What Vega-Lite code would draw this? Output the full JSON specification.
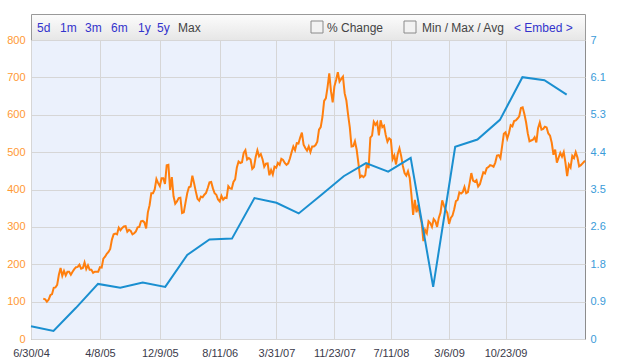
{
  "$schema": "https://vega.github.io/schema/vega-lite/v6.json",
  "padding": {"left": 5, "top": 13, "right": 5, "bottom": 0},
  "background": "white",
  "spacing": 0,
  "bounds": "flush",
  "config": {"font": "Liberation Sans", "concat": {"spacing": 0}},
  "datasets": {
    "buttons": [
      {"label": "5d", "pos": 6, "kind": "link"},
      {"label": "1m", "pos": 29, "kind": "link"},
      {"label": "3m", "pos": 54, "kind": "link"},
      {"label": "6m", "pos": 80, "kind": "link"},
      {"label": "1y", "pos": 107, "kind": "link"},
      {"label": "5y", "pos": 126, "kind": "link"},
      {"label": "Max", "pos": 147, "kind": "plain"},
      {"label": "% Change", "pos": 296, "kind": "plain"},
      {"label": "Min / Max / Avg", "pos": 391, "kind": "plain"},
      {"label": "< Embed >", "pos": 483, "kind": "link"}
    ],
    "boxes": [{"pos": 286}, {"pos": 379}],
    "eps": [
      {"date": "2004-06-30", "e": 0.30}, {"date": "2004-09-30", "e": 0.19}, {"date": "2004-12-31", "e": 0.73},
      {"date": "2005-03-31", "e": 1.29}, {"date": "2005-06-30", "e": 1.20}, {"date": "2005-09-30", "e": 1.32}, {"date": "2005-12-31", "e": 1.22},
      {"date": "2006-03-31", "e": 1.97}, {"date": "2006-06-30", "e": 2.33}, {"date": "2006-09-30", "e": 2.35}, {"date": "2006-12-31", "e": 3.30},
      {"date": "2007-03-31", "e": 3.19}, {"date": "2007-06-30", "e": 2.94}, {"date": "2007-09-30", "e": 3.37}, {"date": "2007-12-31", "e": 3.81},
      {"date": "2008-03-31", "e": 4.12}, {"date": "2008-06-30", "e": 3.92}, {"date": "2008-09-30", "e": 4.24}, {"date": "2008-12-31", "e": 1.22},
      {"date": "2009-03-31", "e": 4.50}, {"date": "2009-06-30", "e": 4.67}, {"date": "2009-09-30", "e": 5.13}, {"date": "2009-12-31", "e": 6.13},
      {"date": "2010-03-31", "e": 6.06}, {"date": "2010-06-30", "e": 5.72}
    ],
    "price": [
      {"date": "2004-08-19", "v": 108}, {"date": "2004-08-27", "v": 106}, {"date": "2004-09-03", "v": 100}, {"date": "2004-09-10", "v": 105},
      {"date": "2004-09-17", "v": 117}, {"date": "2004-09-24", "v": 120}, {"date": "2004-10-01", "v": 137}, {"date": "2004-10-08", "v": 138},
      {"date": "2004-10-15", "v": 145}, {"date": "2004-10-22", "v": 172}, {"date": "2004-10-29", "v": 190}, {"date": "2004-11-05", "v": 169},
      {"date": "2004-11-12", "v": 182}, {"date": "2004-11-19", "v": 170}, {"date": "2004-11-26", "v": 180}, {"date": "2004-12-03", "v": 180},
      {"date": "2004-12-10", "v": 172}, {"date": "2004-12-17", "v": 180}, {"date": "2004-12-24", "v": 187}, {"date": "2004-12-31", "v": 192},
      {"date": "2005-01-07", "v": 193}, {"date": "2005-01-14", "v": 199}, {"date": "2005-01-21", "v": 188}, {"date": "2005-01-28", "v": 190},
      {"date": "2005-02-04", "v": 205}, {"date": "2005-02-11", "v": 187}, {"date": "2005-02-18", "v": 197}, {"date": "2005-02-25", "v": 185},
      {"date": "2005-03-04", "v": 185}, {"date": "2005-03-11", "v": 177}, {"date": "2005-03-18", "v": 180}, {"date": "2005-03-25", "v": 180},
      {"date": "2005-04-01", "v": 180}, {"date": "2005-04-08", "v": 192}, {"date": "2005-04-15", "v": 191}, {"date": "2005-04-22", "v": 215},
      {"date": "2005-04-29", "v": 220}, {"date": "2005-05-06", "v": 228}, {"date": "2005-05-13", "v": 233}, {"date": "2005-05-20", "v": 241},
      {"date": "2005-05-27", "v": 266}, {"date": "2005-06-03", "v": 280}, {"date": "2005-06-10", "v": 282}, {"date": "2005-06-17", "v": 280},
      {"date": "2005-06-24", "v": 298}, {"date": "2005-07-01", "v": 291}, {"date": "2005-07-08", "v": 297}, {"date": "2005-07-15", "v": 301},
      {"date": "2005-07-22", "v": 302}, {"date": "2005-07-29", "v": 287}, {"date": "2005-08-05", "v": 292}, {"date": "2005-08-12", "v": 289},
      {"date": "2005-08-19", "v": 280}, {"date": "2005-08-26", "v": 283}, {"date": "2005-09-02", "v": 288}, {"date": "2005-09-09", "v": 299},
      {"date": "2005-09-16", "v": 300}, {"date": "2005-09-23", "v": 315}, {"date": "2005-09-30", "v": 316}, {"date": "2005-10-07", "v": 312},
      {"date": "2005-10-14", "v": 296}, {"date": "2005-10-21", "v": 339}, {"date": "2005-10-28", "v": 358}, {"date": "2005-11-04", "v": 390},
      {"date": "2005-11-11", "v": 390}, {"date": "2005-11-18", "v": 400}, {"date": "2005-11-25", "v": 428}, {"date": "2005-12-02", "v": 417},
      {"date": "2005-12-09", "v": 409}, {"date": "2005-12-16", "v": 430}, {"date": "2005-12-23", "v": 430}, {"date": "2005-12-30", "v": 415},
      {"date": "2006-01-06", "v": 465}, {"date": "2006-01-13", "v": 466}, {"date": "2006-01-20", "v": 399}, {"date": "2006-01-27", "v": 433},
      {"date": "2006-02-03", "v": 382}, {"date": "2006-02-10", "v": 362}, {"date": "2006-02-17", "v": 368}, {"date": "2006-02-24", "v": 377},
      {"date": "2006-03-03", "v": 378}, {"date": "2006-03-10", "v": 337}, {"date": "2006-03-17", "v": 339}, {"date": "2006-03-24", "v": 365},
      {"date": "2006-03-31", "v": 390}, {"date": "2006-04-07", "v": 406}, {"date": "2006-04-14", "v": 408}, {"date": "2006-04-21", "v": 437},
      {"date": "2006-04-28", "v": 417}, {"date": "2006-05-05", "v": 395}, {"date": "2006-05-12", "v": 375}, {"date": "2006-05-19", "v": 370},
      {"date": "2006-05-26", "v": 381}, {"date": "2006-06-02", "v": 379}, {"date": "2006-06-09", "v": 386}, {"date": "2006-06-16", "v": 391},
      {"date": "2006-06-23", "v": 404}, {"date": "2006-06-30", "v": 419}, {"date": "2006-07-07", "v": 420}, {"date": "2006-07-14", "v": 403},
      {"date": "2006-07-21", "v": 390}, {"date": "2006-07-28", "v": 386}, {"date": "2006-08-04", "v": 373}, {"date": "2006-08-11", "v": 368},
      {"date": "2006-08-18", "v": 383}, {"date": "2006-08-25", "v": 373}, {"date": "2006-09-01", "v": 378}, {"date": "2006-09-08", "v": 377},
      {"date": "2006-09-15", "v": 409}, {"date": "2006-09-22", "v": 403}, {"date": "2006-09-29", "v": 402}, {"date": "2006-10-06", "v": 420},
      {"date": "2006-10-13", "v": 427}, {"date": "2006-10-20", "v": 459}, {"date": "2006-10-27", "v": 475}, {"date": "2006-11-03", "v": 471},
      {"date": "2006-11-10", "v": 473}, {"date": "2006-11-17", "v": 498}, {"date": "2006-11-24", "v": 505}, {"date": "2006-12-01", "v": 480},
      {"date": "2006-12-08", "v": 484}, {"date": "2006-12-15", "v": 480}, {"date": "2006-12-22", "v": 455}, {"date": "2006-12-29", "v": 460},
      {"date": "2007-01-05", "v": 487}, {"date": "2007-01-12", "v": 505}, {"date": "2007-01-19", "v": 489}, {"date": "2007-01-26", "v": 495},
      {"date": "2007-02-02", "v": 481}, {"date": "2007-02-09", "v": 461}, {"date": "2007-02-16", "v": 469}, {"date": "2007-02-23", "v": 470},
      {"date": "2007-03-02", "v": 438}, {"date": "2007-03-09", "v": 452}, {"date": "2007-03-16", "v": 440}, {"date": "2007-03-23", "v": 461},
      {"date": "2007-03-30", "v": 458}, {"date": "2007-04-06", "v": 471}, {"date": "2007-04-13", "v": 466}, {"date": "2007-04-20", "v": 482},
      {"date": "2007-04-27", "v": 479}, {"date": "2007-05-04", "v": 471}, {"date": "2007-05-11", "v": 466}, {"date": "2007-05-18", "v": 470},
      {"date": "2007-05-25", "v": 483}, {"date": "2007-06-01", "v": 500}, {"date": "2007-06-08", "v": 515}, {"date": "2007-06-15", "v": 505},
      {"date": "2007-06-22", "v": 524}, {"date": "2007-06-29", "v": 523}, {"date": "2007-07-06", "v": 539}, {"date": "2007-07-13", "v": 552},
      {"date": "2007-07-20", "v": 520}, {"date": "2007-07-27", "v": 511}, {"date": "2007-08-03", "v": 504}, {"date": "2007-08-10", "v": 515},
      {"date": "2007-08-17", "v": 500}, {"date": "2007-08-24", "v": 515}, {"date": "2007-08-31", "v": 515}, {"date": "2007-09-07", "v": 519},
      {"date": "2007-09-14", "v": 528}, {"date": "2007-09-21", "v": 560}, {"date": "2007-09-28", "v": 567}, {"date": "2007-10-05", "v": 594},
      {"date": "2007-10-12", "v": 637}, {"date": "2007-10-19", "v": 644}, {"date": "2007-10-26", "v": 674}, {"date": "2007-11-02", "v": 711},
      {"date": "2007-11-09", "v": 663}, {"date": "2007-11-16", "v": 633}, {"date": "2007-11-23", "v": 676}, {"date": "2007-11-30", "v": 693},
      {"date": "2007-12-07", "v": 714}, {"date": "2007-12-14", "v": 689}, {"date": "2007-12-21", "v": 696}, {"date": "2007-12-28", "v": 702},
      {"date": "2008-01-04", "v": 657}, {"date": "2008-01-11", "v": 638}, {"date": "2008-01-18", "v": 600}, {"date": "2008-01-25", "v": 566},
      {"date": "2008-02-01", "v": 515}, {"date": "2008-02-08", "v": 516}, {"date": "2008-02-15", "v": 529}, {"date": "2008-02-22", "v": 507},
      {"date": "2008-02-29", "v": 471}, {"date": "2008-03-07", "v": 433}, {"date": "2008-03-14", "v": 437}, {"date": "2008-03-21", "v": 433},
      {"date": "2008-03-28", "v": 438}, {"date": "2008-04-04", "v": 471}, {"date": "2008-04-11", "v": 457}, {"date": "2008-04-18", "v": 539},
      {"date": "2008-04-25", "v": 544}, {"date": "2008-05-02", "v": 581}, {"date": "2008-05-09", "v": 573}, {"date": "2008-05-16", "v": 580},
      {"date": "2008-05-23", "v": 545}, {"date": "2008-05-30", "v": 585}, {"date": "2008-06-06", "v": 567}, {"date": "2008-06-13", "v": 571},
      {"date": "2008-06-20", "v": 546}, {"date": "2008-06-27", "v": 528}, {"date": "2008-07-04", "v": 537}, {"date": "2008-07-11", "v": 533},
      {"date": "2008-07-18", "v": 481}, {"date": "2008-07-25", "v": 491}, {"date": "2008-08-01", "v": 467}, {"date": "2008-08-08", "v": 495},
      {"date": "2008-08-15", "v": 510}, {"date": "2008-08-22", "v": 490}, {"date": "2008-08-29", "v": 463}, {"date": "2008-09-05", "v": 444},
      {"date": "2008-09-12", "v": 437}, {"date": "2008-09-19", "v": 449}, {"date": "2008-09-26", "v": 431}, {"date": "2008-10-03", "v": 386},
      {"date": "2008-10-10", "v": 332}, {"date": "2008-10-17", "v": 372}, {"date": "2008-10-24", "v": 339}, {"date": "2008-10-31", "v": 359},
      {"date": "2008-11-07", "v": 331}, {"date": "2008-11-14", "v": 310}, {"date": "2008-11-21", "v": 262}, {"date": "2008-11-28", "v": 292},
      {"date": "2008-12-05", "v": 283}, {"date": "2008-12-12", "v": 315}, {"date": "2008-12-19", "v": 310}, {"date": "2008-12-26", "v": 300},
      {"date": "2009-01-02", "v": 321}, {"date": "2009-01-09", "v": 315}, {"date": "2009-01-16", "v": 300}, {"date": "2009-01-23", "v": 324},
      {"date": "2009-01-30", "v": 338}, {"date": "2009-02-06", "v": 371}, {"date": "2009-02-13", "v": 357}, {"date": "2009-02-20", "v": 346},
      {"date": "2009-02-27", "v": 337}, {"date": "2009-03-06", "v": 308}, {"date": "2009-03-13", "v": 324}, {"date": "2009-03-20", "v": 330},
      {"date": "2009-03-27", "v": 347}, {"date": "2009-04-03", "v": 369}, {"date": "2009-04-10", "v": 372}, {"date": "2009-04-17", "v": 392},
      {"date": "2009-04-24", "v": 389}, {"date": "2009-05-01", "v": 393}, {"date": "2009-05-08", "v": 407}, {"date": "2009-05-15", "v": 390},
      {"date": "2009-05-22", "v": 393}, {"date": "2009-05-29", "v": 417}, {"date": "2009-06-05", "v": 444}, {"date": "2009-06-12", "v": 424},
      {"date": "2009-06-19", "v": 421}, {"date": "2009-06-26", "v": 425}, {"date": "2009-07-03", "v": 408}, {"date": "2009-07-10", "v": 414},
      {"date": "2009-07-17", "v": 430}, {"date": "2009-07-24", "v": 446}, {"date": "2009-07-31", "v": 443}, {"date": "2009-08-07", "v": 457},
      {"date": "2009-08-14", "v": 460}, {"date": "2009-08-21", "v": 465}, {"date": "2009-08-28", "v": 464}, {"date": "2009-09-04", "v": 461},
      {"date": "2009-09-11", "v": 472}, {"date": "2009-09-18", "v": 491}, {"date": "2009-09-25", "v": 492}, {"date": "2009-10-02", "v": 484},
      {"date": "2009-10-09", "v": 516}, {"date": "2009-10-16", "v": 549}, {"date": "2009-10-23", "v": 553}, {"date": "2009-10-30", "v": 536},
      {"date": "2009-11-06", "v": 551}, {"date": "2009-11-13", "v": 572}, {"date": "2009-11-20", "v": 569}, {"date": "2009-11-27", "v": 583},
      {"date": "2009-12-04", "v": 585}, {"date": "2009-12-11", "v": 590}, {"date": "2009-12-18", "v": 596}, {"date": "2009-12-25", "v": 618},
      {"date": "2010-01-01", "v": 620}, {"date": "2010-01-08", "v": 602}, {"date": "2010-01-15", "v": 580}, {"date": "2010-01-22", "v": 550},
      {"date": "2010-01-29", "v": 529}, {"date": "2010-02-05", "v": 531}, {"date": "2010-02-12", "v": 533}, {"date": "2010-02-19", "v": 540},
      {"date": "2010-02-26", "v": 526}, {"date": "2010-03-05", "v": 564}, {"date": "2010-03-12", "v": 579}, {"date": "2010-03-19", "v": 560},
      {"date": "2010-03-26", "v": 562}, {"date": "2010-04-02", "v": 568}, {"date": "2010-04-09", "v": 566}, {"date": "2010-04-16", "v": 550},
      {"date": "2010-04-23", "v": 544}, {"date": "2010-04-30", "v": 525}, {"date": "2010-05-07", "v": 493}, {"date": "2010-05-14", "v": 507},
      {"date": "2010-05-21", "v": 472}, {"date": "2010-05-28", "v": 485}, {"date": "2010-06-04", "v": 498}, {"date": "2010-06-11", "v": 488},
      {"date": "2010-06-18", "v": 500}, {"date": "2010-06-25", "v": 472}, {"date": "2010-07-02", "v": 436}, {"date": "2010-07-09", "v": 467},
      {"date": "2010-07-16", "v": 459}, {"date": "2010-07-23", "v": 490}, {"date": "2010-07-30", "v": 484}, {"date": "2010-08-06", "v": 500},
      {"date": "2010-08-13", "v": 486}, {"date": "2010-08-20", "v": 462}, {"date": "2010-08-27", "v": 465}, {"date": "2010-09-03", "v": 470},
      {"date": "2010-09-13", "v": 477}
    ]
  },
  "vconcat": [
    {
      "width": 554,
      "height": 26,
      "view": {
        "stroke": "#999999",
        "fill": {"gradient": "linear", "x1": 0, "y1": 0, "x2": 0, "y2": 1,
                 "stops": [{"offset": 0, "color": "#fcfcfc"}, {"offset": 1, "color": "#e6e6e6"}]}
      },
      "layer": [
        {
          "data": {"name": "boxes"},
          "mark": {"type": "square", "size": 144, "filled": true, "fill": "#f2f2f2", "stroke": "#8a8a8a", "strokeWidth": 1, "opacity": 1, "dy": 1},
          "encoding": {
            "x": {"field": "pos", "type": "quantitative", "scale": {"domain": [0, 554], "nice": false, "zero": false}, "axis": null}
          }
        },
        {
          "data": {"name": "buttons"},
          "mark": {"type": "text", "align": "left", "baseline": "middle", "fontSize": 12, "dy": 1},
          "encoding": {
            "x": {"field": "pos", "type": "quantitative", "scale": {"domain": [0, 554], "nice": false, "zero": false}, "axis": null},
            "text": {"field": "label"},
            "color": {"field": "kind", "type": "nominal", "scale": {"domain": ["link", "plain"], "range": ["#3333cc", "#444444"]}, "legend": null}
          }
        }
      ]
    },
    {
      "width": 554,
      "height": 299,
      "view": {"stroke": "#8c8c8c", "fill": "#ebf1fc"},
      "encoding": {
        "x": {
          "field": "date", "type": "temporal",
          "scale": {"type": "utc", "domain": [{"year": 2004, "month": 6, "date": 30, "utc": true}, {"year": 2010, "month": 9, "date": 13, "utc": true}]},
          "axis": {
            "title": null,
            "values": [
              {"year": 2004, "month": 6, "date": 30, "utc": true},
              {"year": 2005, "month": 4, "date": 8, "utc": true},
              {"year": 2005, "month": 12, "date": 9, "utc": true},
              {"year": 2006, "month": 8, "date": 11, "utc": true},
              {"year": 2007, "month": 3, "date": 31, "utc": true},
              {"year": 2007, "month": 11, "date": 23, "utc": true},
              {"year": 2008, "month": 7, "date": 11, "utc": true},
              {"year": 2009, "month": 3, "date": 6, "utc": true},
              {"year": 2009, "month": 10, "date": 23, "utc": true}
            ],
            "format": "%-m/%-d/%y",
            "grid": true, "gridColor": "#d6d6d6", "gridWidth": 1,
            "domain": false, "ticks": false,
            "labelPadding": 8, "labelFontSize": 11, "labelColor": "#3a3a4a",
            "labelFlush": false, "labelOverlap": false
          }
        }
      },
      "layer": [
        {
          "data": {"name": "price"},
          "mark": {"type": "line", "color": "#ff7f0e", "strokeWidth": 2},
          "encoding": {
            "y": {
              "field": "v", "type": "quantitative",
              "scale": {"domain": [0, 800], "nice": false},
              "axis": {
                "orient": "left", "title": null,
                "values": [0, 100, 200, 300, 400, 500, 600, 700, 800],
                "grid": true, "gridColor": "#d6d6d6", "gridWidth": 1,
                "domain": false, "ticks": false,
                "labelColor": "#ff9933", "labelFontSize": 11, "labelPadding": 6,
                "minExtent": 25, "maxExtent": 25
              }
            }
          }
        },
        {
          "data": {"name": "eps"},
          "mark": {"type": "line", "color": "#1a8fd0", "strokeWidth": 2},
          "encoding": {
            "y": {
              "field": "e", "type": "quantitative",
              "scale": {"domain": [0, 7], "nice": false},
              "axis": {
                "orient": "right", "title": null,
                "values": [0, 0.875, 1.75, 2.625, 3.5, 4.375, 5.25, 6.125, 7],
                "format": ".1~f",
                "grid": false, "domain": false, "ticks": false,
                "labelColor": "#3a9bd9", "labelFontSize": 11, "labelPadding": 5
              }
            }
          }
        }
      ],
      "resolve": {"scale": {"y": "independent"}}
    }
  ]
}
